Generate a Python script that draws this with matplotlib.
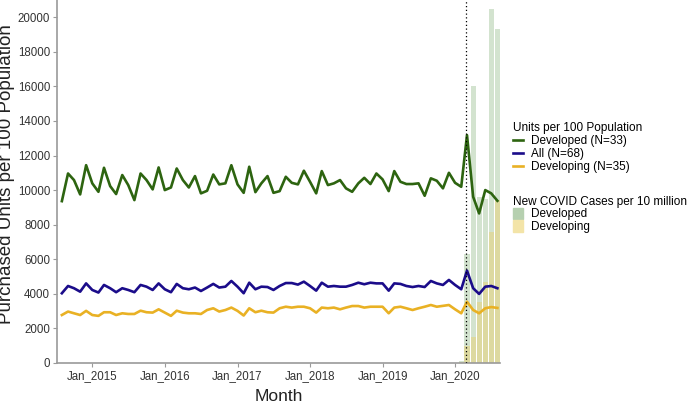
import matplotlib
matplotlib.use("Agg")
import matplotlib.pyplot as plt
from matplotlib.lines import Line2D
from matplotlib.patches import Patch
import pandas as pd

plt.rcParams["font.family"] = ["Liberation Sans", "DejaVu Sans"]

months = pd.date_range("2014-08-01", "2020-08-01", freq="MS")

developed = [9360, 10960, 10580, 9750, 11440, 10390, 9900, 11290, 10230, 9770,
             10870, 10290, 9420, 10960, 10580, 10040, 11310, 10000, 10150, 11250,
             10580, 10150, 10810, 9810, 9960, 10900, 10330, 10390, 11440, 10330,
             9840, 11350, 9880, 10390, 10810, 9840, 9940, 10770, 10420, 10330,
             11120, 10480, 9810, 11100, 10290, 10390, 10580, 10100, 9900, 10390,
             10710, 10350, 10960, 10620, 9940, 11100, 10480, 10350, 10350, 10390,
             9670, 10680, 10540, 10100, 11000, 10420, 10190, 13180, 9610, 8650,
             10000, 9810, 9380]

all_c = [4030, 4450, 4320, 4120, 4600, 4220, 4070, 4510, 4320, 4090,
         4320, 4220, 4090, 4510, 4410, 4220, 4600, 4260, 4090, 4570,
         4320, 4260, 4360, 4160, 4360, 4570, 4360, 4410, 4740, 4410,
         4030, 4640, 4260, 4410, 4390, 4220, 4450, 4620, 4620, 4530,
         4700, 4450, 4180, 4640, 4410, 4450, 4410, 4410, 4510, 4640,
         4550, 4640, 4600, 4600, 4180, 4600, 4570, 4450, 4390, 4450,
         4390, 4740, 4600, 4510, 4800, 4510, 4260, 5340, 4320, 3990,
         4410, 4450, 4320]

developing = [2770, 2970, 2870, 2770, 3010, 2770, 2720, 2930, 2930, 2770,
              2870, 2830, 2830, 3020, 2930, 2910, 3100, 2910, 2720, 3020,
              2910, 2870, 2870, 2830, 3060, 3160, 2970, 3060, 3200, 3010,
              2740, 3160, 2930, 3020, 2930, 2910, 3160, 3250, 3200, 3250,
              3250, 3160, 2910, 3200, 3160, 3200, 3100, 3200, 3290, 3290,
              3200, 3250, 3250, 3250, 2870, 3200, 3250, 3160, 3060, 3160,
              3250, 3350, 3250, 3300, 3350, 3100, 2870, 3540, 3060, 2870,
              3160, 3230, 3180]

covid_months = pd.date_range("2020-02-01", "2020-08-01", freq="MS")
covid_developed = [120, 6300, 16000, 9600, 9500, 20500, 19300]
covid_developing = [60, 1000, 1500, 3500, 4700, 7600, 9400]

green = "#2d6410"
blue = "#1b0c8a"
yellow = "#e9b124"

fig = plt.figure(figsize=(6.88, 4.05), dpi=100)
ax = fig.add_axes([0.083, 0.104, 0.644, 0.896])

ax.bar(covid_months, covid_developed, width=26, color="#a9c9a0", alpha=0.5, zorder=1)
ax.bar(covid_months, covid_developing, width=26, color="#e6d27a", alpha=0.55, zorder=1)

ax.plot(months, developed, color=green, lw=1.9, zorder=3)
ax.plot(months, all_c, color=blue, lw=1.9, zorder=3)
ax.plot(months, developing, color=yellow, lw=1.9, zorder=3)

ax.axvline(pd.Timestamp("2020-02-27"), color="black", ls=(0, (1, 2)), lw=0.9, zorder=4)

ax.set_ylim(0, 21000)
ax.set_yticks(range(0, 20001, 2000))
ax.set_xlim(pd.Timestamp("2014-07-08"), pd.Timestamp("2020-08-15"))
ticks = pd.date_range("2015-01-01", "2020-01-01", freq="YS")
ax.set_xticks(ticks)
ax.set_xticklabels(["Jan_" + str(t.year) for t in ticks])

for s in ["top", "right"]:
    ax.spines[s].set_visible(False)
for s in ["left", "bottom"]:
    ax.spines[s].set_color("#9a9a9a")
    ax.spines[s].set_linewidth(1.2)
ax.tick_params(labelcolor="#333333", labelsize=8.3, length=3, width=0.8,
               color="#9a9a9a", pad=2)

ax.set_ylabel("Purchased Units per 100 Population", fontsize=13.5, color="#222222")
ax.yaxis.set_label_coords(-0.094, 0.52)
ax.set_xlabel("Month", fontsize=12.5, color="#222222", labelpad=5)

# two separate legend blocks on the right
h1 = [Line2D([], [], color=green, lw=1.9),
      Line2D([], [], color=blue, lw=1.9),
      Line2D([], [], color=yellow, lw=1.9)]
fig.legend(h1, ["Developed (N=33)", "All (N=68)", "Developing (N=35)"],
           title="Units per 100 Population", loc="upper left",
           bbox_to_anchor=(0.746, 0.70), frameon=False, fontsize=8.5,
           title_fontsize=8.5, handlelength=0.85, handletextpad=0.65,
           labelspacing=0.1, alignment="left", borderaxespad=0, borderpad=0)
h2 = [Patch(color="#b6d0b0"), Patch(color="#f3e4a8")]
fig.legend(h2, ["Developed", "Developing"],
           title="New COVID Cases per 10 million", loc="upper left",
           bbox_to_anchor=(0.746, 0.517), frameon=False, fontsize=8.5,
           title_fontsize=8.5, handlelength=0.85, handleheight=1.1,
           handletextpad=0.65, labelspacing=0.0, alignment="left",
           borderaxespad=0, borderpad=0)

fig.savefig("out.png", dpi=100)
